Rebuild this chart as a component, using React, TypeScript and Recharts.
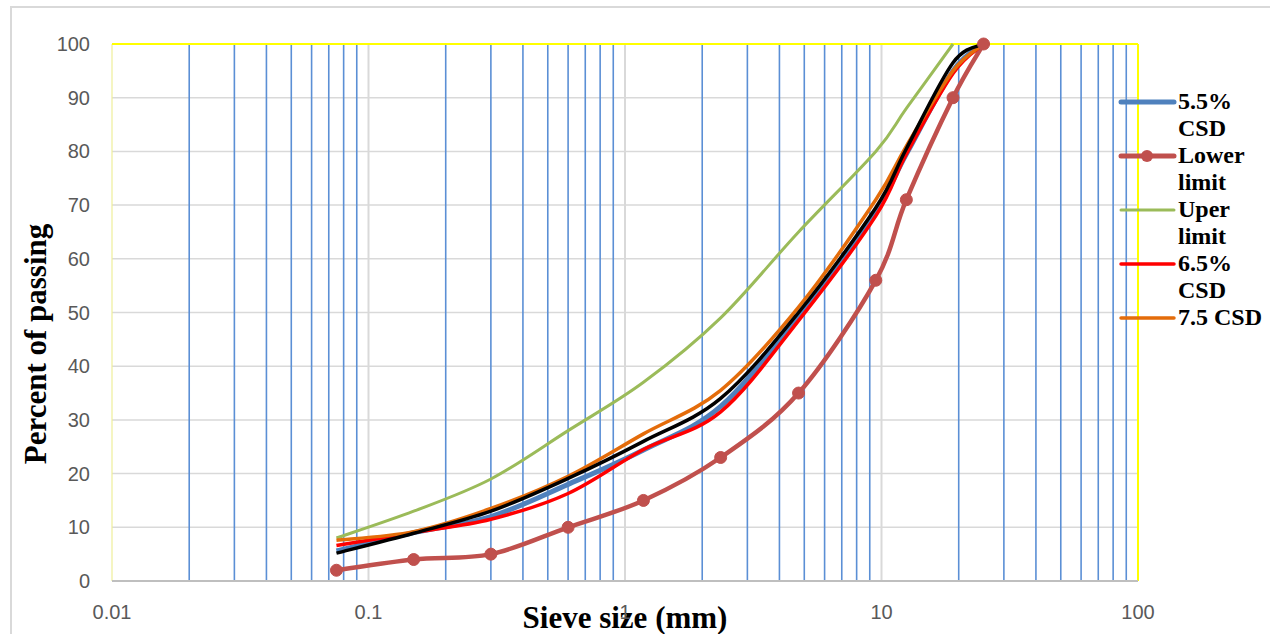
import React from "react";
import { LineChart, Line, XAxis, YAxis, CartesianGrid, ReferenceLine } from "recharts";

const sieveSizes = [0.075, 0.15, 0.3, 0.6, 1.18, 2.36, 4.75, 9.5, 12.5, 19, 25];
const csd55 = [5.6, 9, 12, 18, 24.4, 32.5, 49.5, 69, 79.5, 95, 100];
const lowerLimit = [2, 4, 5, 10, 15, 23, 35, 56, 71, 90, 100];
const upperLimit: (number | null)[] = [8, 13, 19, 28, 37, 49, 65, 80, 88, 100, null];
const csd65 = [6.6, 9, 11.5, 16.3, 24.5, 31.5, 48.5, 68, 79.5, 94.5, 100];
const csd75 = [7.6, 9.2, 13.5, 19.5, 27.4, 35.5, 51, 71, 81, 95, 100];
const extraCurve = [5.2, 8.9, 13, 19.1, 26, 34, 50, 69.5, 80.5, 96.5, 100];

const xTicks = [0.01, 0.1, 1, 10, 100];
const yTicks = [0, 10, 20, 30, 40, 50, 60, 70, 80, 90, 100];
const decadeLines = [0.1, 1, 10];
const minorLines = [
  0.02, 0.03, 0.04, 0.05, 0.06, 0.07, 0.08, 0.09,
  0.2, 0.3, 0.4, 0.5, 0.6, 0.7, 0.8, 0.9,
  2, 3, 4, 5, 6, 7, 8, 9,
  20, 30, 40, 50, 60, 70, 80, 90,
];

const legendItems = [
  { label: "5.5% CSD", color: "#4F81BD", width: 5, marker: false },
  { label: "Lower limit", color: "#C0504D", width: 5, marker: true },
  { label: "Uper limit", color: "#9BBB59", width: 3, marker: false },
  { label: "6.5% CSD", color: "#FF0000", width: 3.5, marker: false },
  { label: "7.5 CSD", color: "#E46C0A", width: 3.5, marker: false },
];

const data = sieveSizes.map((s, i) => ({
  size: s,
  csd55: csd55[i],
  lower: lowerLimit[i],
  upper: upperLimit[i],
  csd65: csd65[i],
  csd75: csd75[i],
  extra: extraCurve[i],
}));

// Excel-like smoothed line (Catmull-Rom through the points)
const smoothCurve = (context: any) => {
  let pts: number[][] = [];
  return {
    areaStart() {},
    areaEnd() {},
    lineStart() {
      pts = [];
    },
    point(x: number, y: number) {
      pts.push([+x, +y]);
    },
    lineEnd() {
      const n = pts.length;
      if (!n) return;
      context.moveTo(pts[0][0], pts[0][1]);
      for (let i = 0; i < n - 1; i++) {
        const p0 = pts[i - 1] || pts[i];
        const p1 = pts[i];
        const p2 = pts[i + 1];
        const p3 = pts[i + 2] || pts[i + 1];
        const c1x = p1[0] + (p2[0] - p0[0]) / 6;
        const c1y = p1[1] + (p2[1] - p0[1]) / 6;
        const c2x = p2[0] - (p3[0] - p1[0]) / 6;
        const c2y = p2[1] - (p3[1] - p1[1]) / 6;
        context.bezierCurveTo(c1x, c1y, c2x, c2y, p2[0], p2[1]);
      }
    },
  };
};

const tickFont = "'Liberation Sans', Arial, sans-serif";
const titleFont = "'Liberation Serif', 'Times New Roman', serif";

const YTick = (props: any) => (
  <text x={90} y={props.y} textAnchor="end" dominantBaseline="central" fontFamily={tickFont} fontSize={20} fill="#595959">
    {props.payload.value}
  </text>
);

const XTick = (props: any) => (
  <text x={props.x} y={612} textAnchor="middle" dominantBaseline="central" fontFamily={tickFont} fontSize={20} fill="#595959">
    {props.payload.value}
  </text>
);

export default function App() {
  return (
    <div style={{ position: "absolute", left: 0, top: 0, width: 1270, height: 634, background: "#fff", overflow: "hidden" }}>
      <div style={{ position: "absolute", left: 10, top: 6, width: 1262, height: 632, border: "2px solid #D9D9D9", boxSizing: "border-box" }} />
      <div style={{ position: "absolute", left: 0, top: 0 }}>
        <LineChart width={1270} height={634} data={data} margin={{ top: 44, right: 132, bottom: 23, left: 0 }}>
          <CartesianGrid vertical={false} stroke="#D9D9D9" strokeWidth={1.5} />
          {decadeLines.map((v) => (
            <ReferenceLine key={"d" + v} x={v} stroke="#D9D9D9" strokeWidth={2} />
          ))}
          {minorLines.map((v) => (
            <ReferenceLine key={"m" + v} x={v} stroke="#5B8FD5" strokeWidth={1.6} />
          ))}
          <ReferenceLine x={0.01} stroke="#EEEE99" strokeWidth={1.2} />
          <ReferenceLine y={100} stroke="#FFFF00" strokeWidth={2} />
          <ReferenceLine x={100} stroke="#FFFF00" strokeWidth={2} />
          <XAxis
            dataKey="size"
            type="number"
            scale="log"
            domain={[0.01, 100]}
            ticks={xTicks}
            allowDataOverflow
            height={30}
            tickLine={false}
            axisLine={{ stroke: "#BFBFBF", strokeWidth: 2 }}
            tick={<XTick />}
            label={() => (
              <text x={625} y={617} textAnchor="middle" dominantBaseline="central" fontFamily={titleFont} fontWeight="bold" fontSize={31} fill="#000">
                Sieve size (mm)
              </text>
            )}
          />
          <YAxis
            type="number"
            domain={[0, 100]}
            ticks={yTicks}
            width={112}
            axisLine={false}
            tickLine={false}
            tick={<YTick />}
            label={() => (
              <text x={35} y={344} transform="rotate(-90 35 344)" textAnchor="middle" dominantBaseline="central" fontFamily={titleFont} fontWeight="bold" fontSize={31} fill="#000">
                Percent of passing
              </text>
            )}
          />
          <Line type={smoothCurve as any} dataKey="csd55" stroke="#4F81BD" strokeWidth={5} dot={false} isAnimationActive={false} />
          <Line type={smoothCurve as any} dataKey="lower" stroke="#C0504D" strokeWidth={4.5} dot={{ r: 6, fill: "#C0504D", stroke: "#C0504D", strokeWidth: 1 }} isAnimationActive={false} />
          <Line type={smoothCurve as any} dataKey="upper" stroke="#9BBB59" strokeWidth={3} dot={false} isAnimationActive={false} />
          <Line type={smoothCurve as any} dataKey="csd65" stroke="#FF0000" strokeWidth={3.5} dot={false} isAnimationActive={false} />
          <Line type={smoothCurve as any} dataKey="csd75" stroke="#E46C0A" strokeWidth={3.5} dot={false} isAnimationActive={false} />
          <Line type={smoothCurve as any} dataKey="extra" stroke="#000000" strokeWidth={3.5} dot={false} isAnimationActive={false} legendType="none" />
        </LineChart>
      </div>
      <div style={{ position: "absolute", left: 1118, top: 88, width: 152 }}>
        {legendItems.map((it) => (
          <div key={it.label} style={{ display: "flex", alignItems: "flex-start", height: 54 }}>
            <svg width={60} height={27} style={{ flex: "none" }}>
              <line x1={3} y1={14} x2={56} y2={14} stroke={it.color} strokeWidth={it.width} strokeLinecap="round" />
              {it.marker && <circle cx={29} cy={14} r={6} fill={it.color} />}
            </svg>
            <div style={{ width: 90, fontFamily: titleFont, fontWeight: "bold", fontSize: 24, lineHeight: "27px", color: "#000" }}>
              {it.label}
            </div>
          </div>
        ))}
      </div>
    </div>
  );
}
